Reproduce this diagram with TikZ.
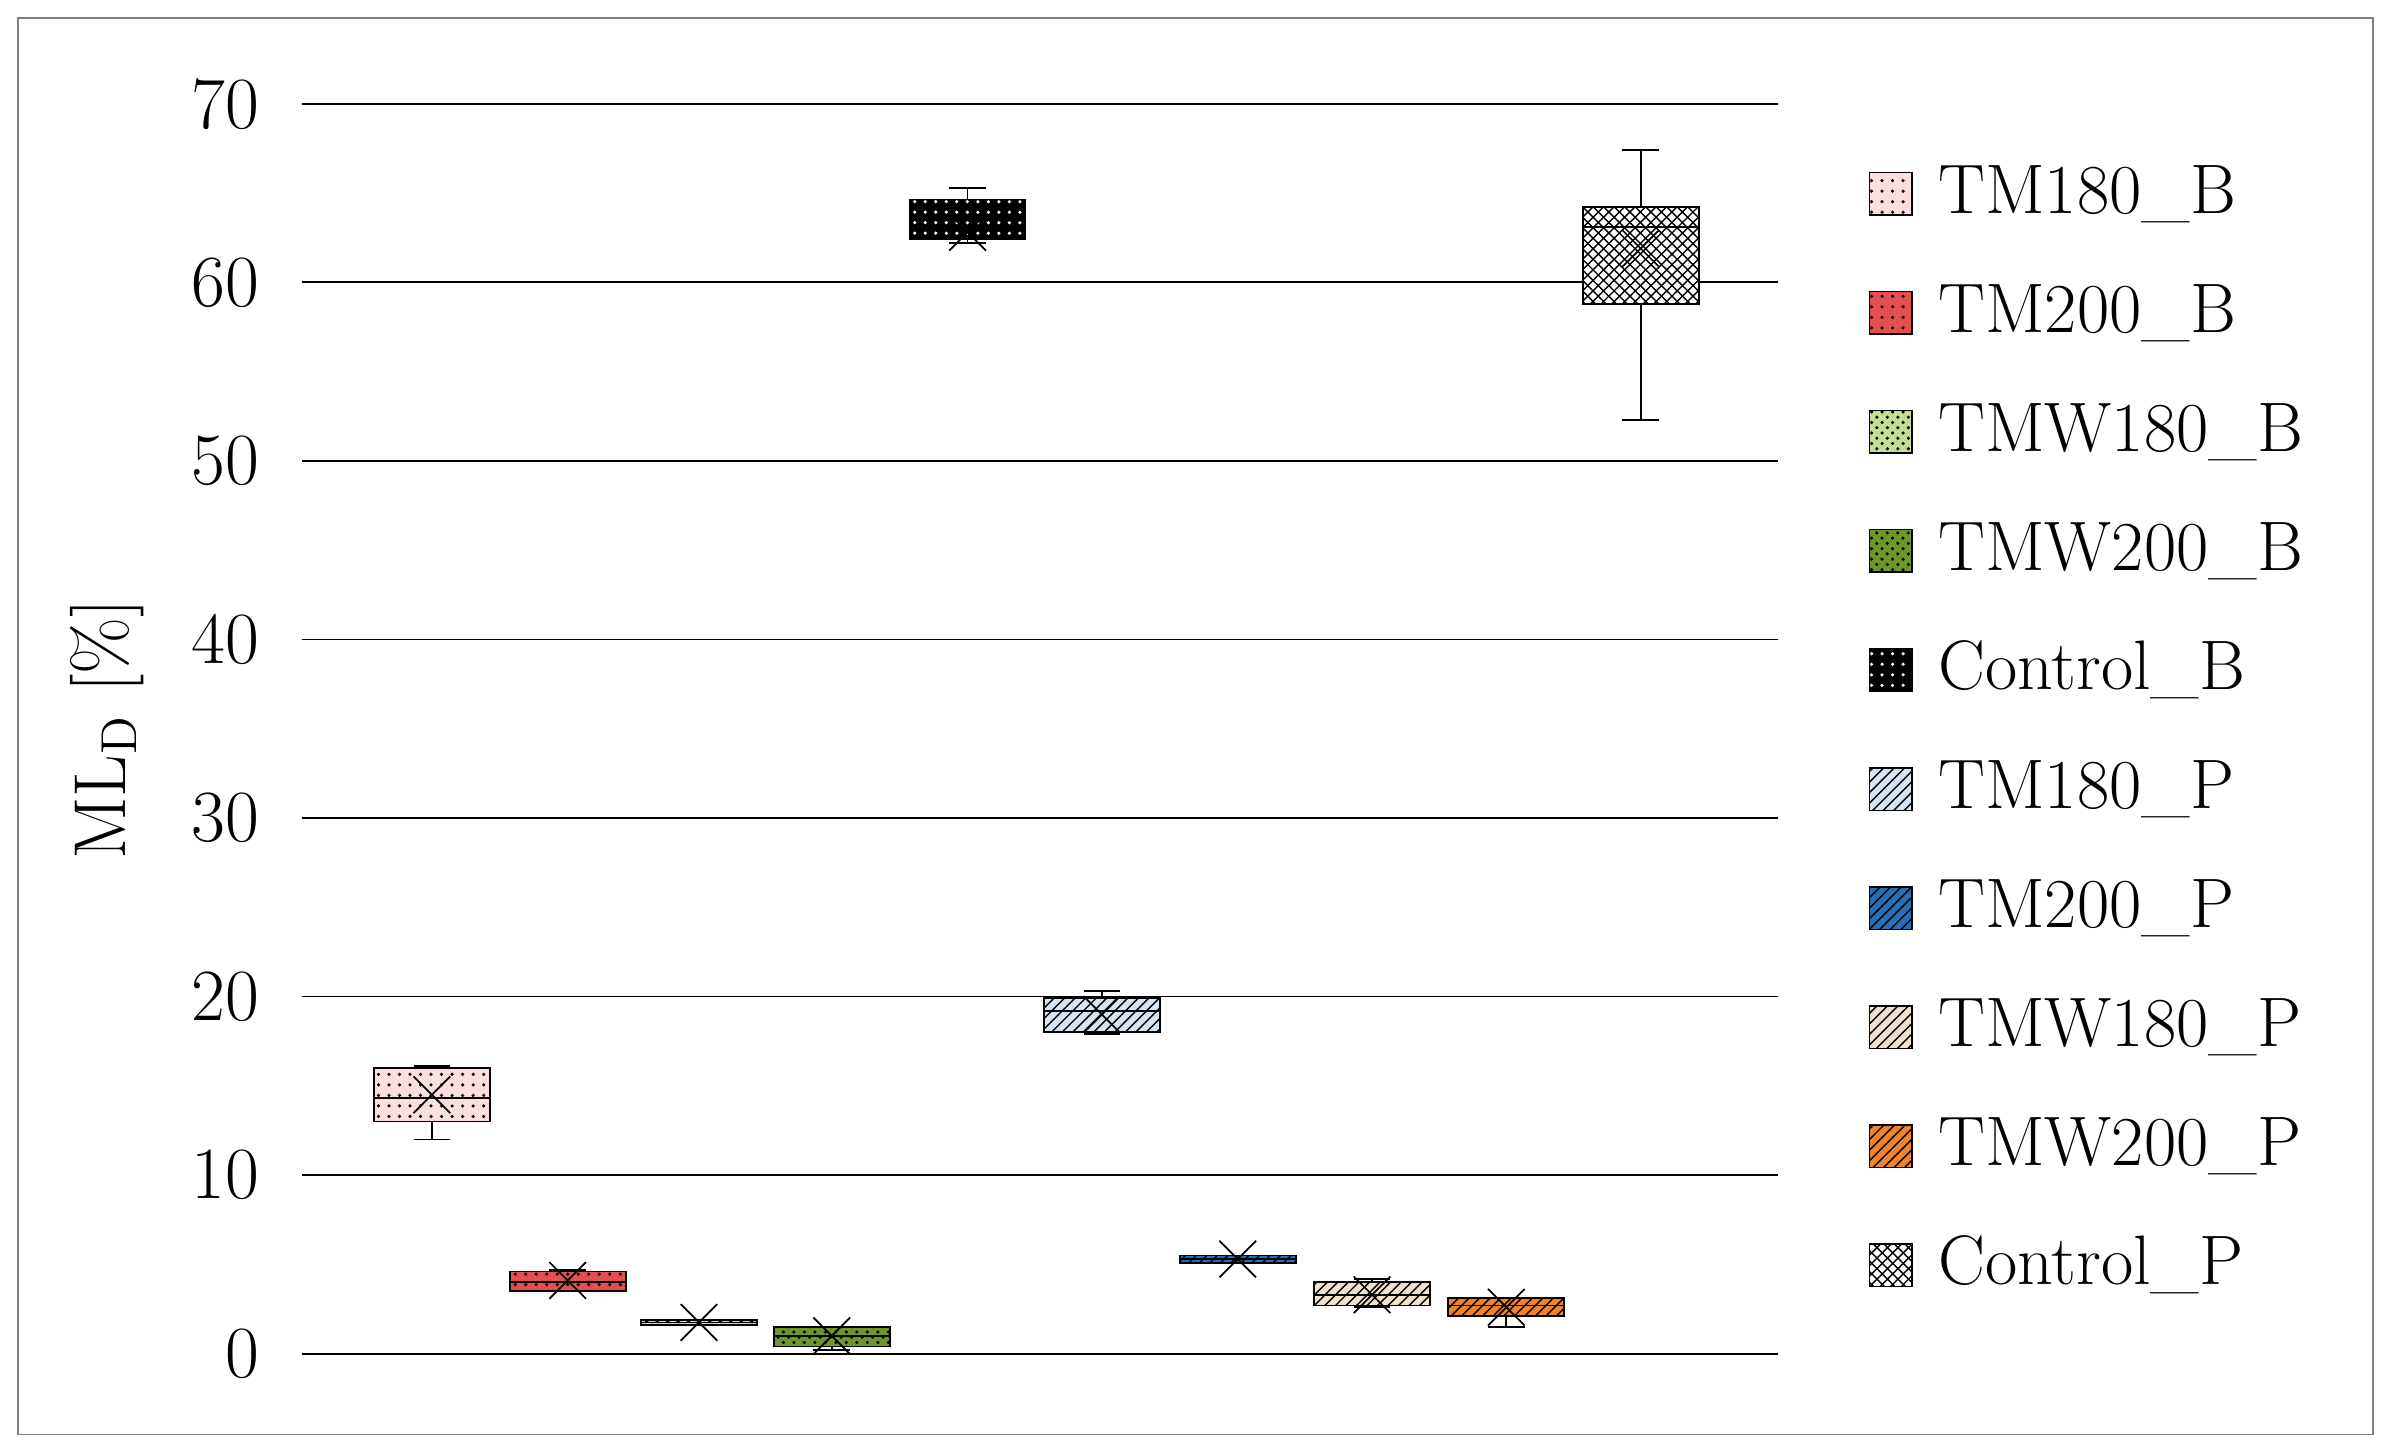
\documentclass[tikz,border=0pt]{standalone}
\usetikzlibrary{patterns}
\definecolor{pinkf}{RGB}{252,222,222}
\definecolor{redf}{RGB}{228,80,80}
\definecolor{lgreen}{RGB}{196,222,150}
\definecolor{dgreen}{RGB}{110,150,40}
\definecolor{lblue}{RGB}{214,228,242}
\definecolor{bluef}{RGB}{40,110,180}
\definecolor{beigef}{RGB}{240,225,205}
\definecolor{orangef}{RGB}{240,130,40}
\begin{document}
\begin{tikzpicture}[x=0.0153cm,y=-0.0153cm,line width=0.5pt,
 tick/.style={font=\fontsize{21}{21}\selectfont,anchor=east},
 leg/.style={font=\fontsize{20}{20}\selectfont,anchor=west}]
\useasboundingbox (0,0) rectangle (1568,952);
\draw[gray] (12,12) rectangle (1555,940);
% grid
\foreach \v in {0,10,...,70}{
  \draw (198,{887-11.7*\v}) -- (1165,{887-11.7*\v});
  \node[tick] (t\v) at (178,{887-11.7*\v}) {\v};
}
\node[rotate=90,font=\fontsize{21}{21}\selectfont] (yl) at (70,478) {ML$_{\mathrm{D}}$ [\%]};
\newcommand\bx[9]{%
 \draw ({#1-12},{887-11.7*#6}) -- ({#1+12},{887-11.7*#6});
 \draw ({#1-12},{887-11.7*#5}) -- ({#1+12},{887-11.7*#5});
 \draw (#1,{887-11.7*#6}) -- (#1,{887-11.7*#5});
 \fill[#8] ({#1-38},{887-11.7*#2}) rectangle ({#1+38},{887-11.7*#4});
 \fill[pattern=#9] ({#1-38},{887-11.7*#2}) rectangle ({#1+38},{887-11.7*#4});
 \draw ({#1-38},{887-11.7*#2}) rectangle ({#1+38},{887-11.7*#4});
 \draw ({#1-38},{887-11.7*#3}) -- ({#1+38},{887-11.7*#3});
}
\newcommand\mk[2]{\draw (#1-12,{887-11.7*#2-12}) -- (#1+12,{887-11.7*#2+12}) (#1-12,{887-11.7*#2+12}) -- (#1+12,{887-11.7*#2-12});}
\bx{283}{13.0}{14.3}{16.0}{12.0}{16.1}{}{pinkf}{dots}\mk{283}{14.5}
\bx{372}{3.5}{4.0}{4.6}{3.5}{4.7}{}{redf}{dots}\mk{372}{4.1}
\bx{458}{1.6}{1.75}{1.9}{1.6}{1.9}{}{lgreen}{crosshatch dots}\mk{458}{1.75}
\bx{545}{0.4}{1.0}{1.5}{0.2}{1.5}{}{dgreen}{crosshatch dots}\mk{545}{1.0}
\bx{634}{62.4}{63.3}{64.6}{62.2}{65.3}{}{black}{{dots}}
\fill[pattern=dots,pattern color=white] (596,{887-11.7*62.4}) rectangle (672,{887-11.7*64.6});
\mk{634}{62.8}
\bx{722}{18.0}{19.2}{19.9}{17.9}{20.3}{}{lblue}{north east lines}\mk{722}{19.0}
\bx{811}{5.1}{5.3}{5.5}{5.1}{5.5}{}{bluef}{north east lines}\mk{811}{5.3}
\bx{899}{2.7}{3.3}{4.0}{2.6}{4.2}{}{beigef}{north east lines}\mk{899}{3.3}
\bx{987}{2.1}{2.7}{3.1}{1.5}{3.1}{}{orangef}{north east lines}\mk{987}{2.6}
\bx{1075}{58.8}{63.1}{64.2}{52.3}{67.4}{}{white}{crosshatch}\mk{1075}{61.9}
% legend
\foreach \n/\c/\p/\pc [count=\i from 0] in {TM180\_B/pinkf/dots/black, TM200\_B/redf/dots/black, TMW180\_B/lgreen/crosshatch dots/black, TMW200\_B/dgreen/crosshatch dots/black, Control\_B/black/dots/white, TM180\_P/lblue/north east lines/black, TM200\_P/bluef/north east lines/black, TMW180\_P/beigef/north east lines/black, TMW200\_P/orangef/north east lines/black, Control\_P/white/crosshatch/black}{
  \fill[\c] (1225,{127+78*\i-14}) rectangle (1253,{127+78*\i+14});
  \fill[pattern=\p,pattern color=\pc] (1225,{127+78*\i-14}) rectangle (1253,{127+78*\i+14});
  \draw (1225,{127+78*\i-14}) rectangle (1253,{127+78*\i+14});
  \node[leg] (l\i) at (1262,{127+78*\i}) {\n};
}
\end{tikzpicture}
\end{document}
